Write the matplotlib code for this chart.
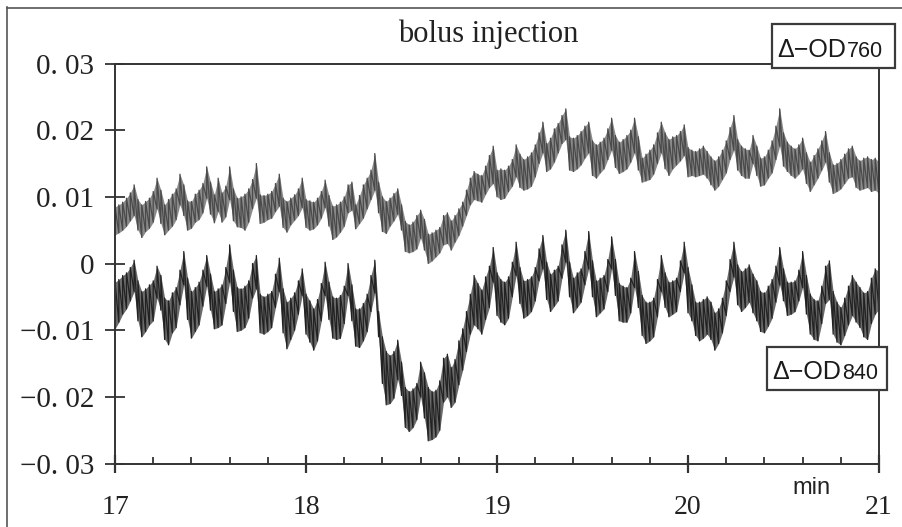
import matplotlib
matplotlib.use("Agg")
import matplotlib.pyplot as plt
import numpy as np
from matplotlib.lines import Line2D
from matplotlib.patches import Rectangle
from matplotlib.ticker import MultipleLocator

# recording grid (min)
t_start = 17.0
t_step = 0.02

# envelopes of the two traces, in units of 0.001
od760_hi = [
    8.5, 8.8, 9.2, 9.8, 10.6, 11.8, 9.6, 8.8, 9.3, 9.8,
    10.8, 12.8, 11.0, 8.8, 9.6, 10.4, 11.2, 13.4, 11.8, 9.4,
    9.3, 10.4, 11.0, 12.0, 14.5, 12.2, 10.3, 12.8, 10.6, 11.6,
    14.5, 11.2, 9.8, 10.0, 10.4, 11.2, 12.6, 15.0, 10.3, 10.2,
    10.4, 10.8, 12.0, 13.4, 9.8, 9.3, 9.8, 10.3, 11.2, 12.8,
    9.6, 9.4, 9.2, 9.8, 10.8, 12.5, 10.2, 8.6, 8.8, 9.2,
    10.0, 11.8, 12.2, 8.8, 10.2, 11.8, 12.8, 14.0, 16.5, 12.2,
    10.0, 9.3, 9.8, 10.5, 11.2, 8.8, 6.3, 5.8, 6.2, 7.2,
    8.0, 6.6, 4.4, 4.6, 5.0, 5.4, 7.2, 7.6, 6.4, 7.2,
    8.2, 9.2, 11.0, 12.8, 13.8, 13.4, 13.2, 14.6, 16.2, 17.6,
    14.0, 14.2, 14.0, 14.6, 15.6, 17.8, 16.4, 15.6, 16.0, 16.6,
    17.8, 19.6, 21.2, 18.0, 18.8, 20.2, 21.0, 22.2, 23.2, 19.0,
    18.8, 19.2, 19.8, 20.6, 21.2, 18.4, 17.8, 18.2, 18.8, 20.2,
    21.8, 19.2, 18.2, 18.6, 19.2, 20.0, 21.8, 19.0, 15.8, 16.4,
    17.0, 17.8, 19.6, 21.2, 19.6, 18.6, 19.0, 19.2, 19.8, 20.8,
    17.4, 17.0, 16.8, 17.2, 17.6, 16.8, 16.0, 15.4, 16.0, 17.0,
    18.4, 20.4, 22.2, 18.6, 17.6, 17.2, 17.0, 19.2, 17.6, 15.8,
    16.0, 17.0, 18.4, 20.6, 23.2, 19.6, 18.2, 17.6, 17.2, 17.8,
    18.8, 16.6, 15.2, 16.2, 17.2, 18.4, 19.8, 16.6, 14.8, 15.0,
    15.6, 16.4, 17.2, 17.6, 16.0, 15.4, 15.8, 16.0, 15.6, 15.8,
    15.2,
]
od760_lo = [
    4.3, 4.6, 5.0, 5.6, 6.4, 7.2, 5.0, 3.9, 4.8, 5.3,
    6.2, 8.2, 6.0, 4.3, 5.0, 5.6, 6.6, 8.8, 7.2, 5.0,
    5.3, 6.2, 6.6, 7.6, 9.8, 7.4, 6.1, 7.8, 6.2, 7.0,
    9.6, 6.4, 5.5, 5.4, 5.0, 6.2, 8.2, 9.8, 6.0, 6.2,
    6.6, 6.8, 7.8, 8.6, 5.4, 4.7, 5.8, 6.5, 7.2, 8.4,
    5.4, 5.0, 5.2, 5.8, 6.8, 8.4, 5.6, 3.6, 4.0, 4.7,
    5.6, 7.6, 8.0, 5.2, 6.0, 6.8, 8.2, 9.6, 11.0, 7.6,
    4.8, 4.5, 5.6, 6.4, 7.4, 5.0, 1.8, 1.6, 1.8, 2.2,
    3.8, 2.0, 0.0, 0.4, 1.0, 1.6, 2.8, 3.0, 2.0, 3.2,
    4.2, 5.6, 7.2, 8.8, 9.6, 9.4, 9.2, 10.4, 11.4, 12.0,
    10.0, 9.6, 9.8, 10.8, 11.6, 13.0, 11.4, 11.0, 11.2, 11.6,
    13.0, 15.0, 16.6, 13.8, 14.2, 15.2, 16.6, 18.0, 18.6, 14.0,
    13.8, 14.2, 14.8, 15.8, 16.6, 13.2, 12.8, 13.6, 14.2, 15.6,
    17.0, 14.4, 13.5, 13.8, 14.2, 15.2, 16.6, 14.0, 12.2, 12.4,
    12.6, 13.4, 15.0, 16.6, 14.2, 13.2, 14.2, 14.8, 15.4, 16.2,
    13.0, 13.2, 13.0, 13.2, 13.4, 12.8, 11.8, 11.0, 11.6, 12.6,
    13.6, 15.6, 17.0, 14.0, 13.2, 12.8, 12.8, 15.0, 13.2, 11.6,
    11.8, 12.8, 13.6, 15.6, 17.6, 14.6, 13.8, 13.2, 12.8, 13.4,
    14.2, 12.0, 10.8, 11.8, 12.8, 14.0, 15.2, 12.2, 10.5, 10.8,
    11.2, 12.0, 12.8, 13.0, 11.4, 11.0, 11.2, 11.4, 10.8, 11.0,
    10.5,
]
od840_hi = [
    -2.8, -2.4, -1.8, -1.4, -0.6, 0.5, -2.6, -4.2, -3.8, -3.2,
    -2.6, -0.4, -1.8, -5.2, -5.6, -4.4, -3.6, -1.0, 1.8, -2.2,
    -4.2, -3.6, -2.8, -1.0, 1.2, -1.6, -4.2, -3.8, -3.2, -0.6,
    2.8, -1.0, -3.6, -3.8, -3.4, -2.6, 0.0, 1.2, -4.6, -5.0,
    -4.6, -4.2, -1.6, 0.8, -3.8, -5.8, -5.2, -4.4, -2.6, -0.8,
    -4.6, -5.6, -6.8, -5.4, -3.0, 0.2, -2.8, -5.0, -5.2, -4.8,
    -3.4, 0.0, -3.2, -6.8, -6.8, -6.0, -4.6, -1.8, 0.5, -7.2,
    -11.0, -13.2, -13.8, -13.2, -11.5, -14.8, -18.6, -19.2, -18.8, -18.0,
    -14.8, -16.4, -18.6, -19.2, -19.0, -17.6, -14.2, -13.6, -15.6, -14.4,
    -11.6, -9.8, -7.2, -4.6, -1.8, -3.0, -4.0, -2.0, -0.4, 2.4,
    -1.4, -2.4, -2.8, -2.0, 0.2, 3.2, -0.6, -2.6, -2.4, -2.0,
    -0.6, 2.2, 4.2, 0.2, -1.6, -1.0, -0.4, 2.8, 5.0, 0.2,
    -2.2, -1.4, -0.8, 1.8, 4.8, 0.4, -2.6, -2.2, -1.8, 0.6,
    4.0, 0.6, -3.0, -3.4, -3.6, -2.2, 1.8, -1.2, -4.8, -5.8,
    -5.8, -5.2, -2.4, 1.2, -1.4, -2.8, -2.6, -2.2, 0.4, 3.2,
    -0.6, -3.2, -5.8, -5.8, -5.4, -5.0, -5.8, -7.4, -6.8, -5.2,
    -2.6, 0.6, 3.2, -0.2, -1.2, -0.8, -0.2, -1.6, -2.6, -4.2,
    -4.4, -3.4, -2.4, -0.4, 2.4, -0.8, -2.8, -2.8, -2.6, -1.0,
    1.8, -1.8, -4.6, -5.4, -5.6, -3.4, -0.4, 0.4, -4.2, -5.8,
    -6.6, -5.2, -3.4, -1.8, -2.8, -3.6, -4.4, -4.2, -2.2, -0.8,
    -1.2,
]
od840_lo = [
    -9.8, -8.8, -7.6, -6.8, -5.6, -4.2, -8.6, -11.0, -10.2, -9.2,
    -8.6, -5.2, -7.0, -11.4, -12.2, -10.4, -9.6, -6.2, -3.2, -8.4,
    -11.2, -10.2, -9.2, -6.4, -3.4, -7.0, -9.8, -9.6, -9.2, -6.0,
    -2.8, -7.2, -10.2, -10.0, -9.6, -8.2, -5.2, -3.8, -10.4, -10.6,
    -10.2, -9.6, -6.6, -4.2, -10.4, -12.8, -11.4, -10.0, -7.6, -4.8,
    -10.6, -11.8, -13.0, -11.6, -8.6, -4.8, -8.4, -11.2, -11.4, -11.2,
    -9.0, -4.8, -8.6, -12.4, -12.6, -11.6, -10.2, -7.2, -4.4, -11.0,
    -18.0, -21.2, -21.0, -20.2, -17.4, -19.8, -24.6, -25.2, -24.6, -23.4,
    -20.0, -23.2, -26.6, -26.4, -26.0, -25.0, -20.8, -20.0, -21.6, -20.8,
    -18.2, -16.0, -13.2, -10.6, -9.2, -9.8, -10.6, -8.4, -6.6, -2.8,
    -7.8, -8.8, -9.2, -8.2, -5.0, -1.8, -6.0, -8.2, -7.8, -7.2,
    -5.6, -2.6, -0.8, -5.4, -7.2, -6.4, -5.6, -2.2, 0.2, -5.0,
    -7.4, -6.6, -5.8, -3.2, -0.8, -5.0, -8.0, -7.4, -6.8, -4.2,
    -0.8, -4.8, -8.6, -8.8, -8.8, -7.4, -3.6, -6.6, -10.8, -12.0,
    -11.6, -11.0, -8.0, -4.2, -6.6, -8.0, -7.6, -7.2, -4.2, -1.4,
    -7.4, -8.6, -10.8, -11.6, -11.2, -10.6, -11.4, -13.0, -12.0, -10.4,
    -7.8, -4.2, -2.0, -6.2, -7.2, -6.6, -5.8, -7.4, -8.6, -10.2,
    -10.4, -9.4, -8.2, -5.8, -3.2, -5.6, -7.8, -7.6, -7.2, -5.6,
    -3.6, -7.6, -10.6, -11.4, -11.6, -9.0, -6.0, -5.4, -10.6, -11.8,
    -12.2, -10.8, -9.2, -7.8, -8.8, -9.6, -11.0, -11.4, -9.0, -7.6,
    -6.8,
]

x_ticks = [17, 18, 19, 20, 21]
x_labels = ["17", "18", "19", "20", "21"]
y_ticks = [-0.03, -0.02, -0.01, 0, 0.01, 0.02, 0.03]
y_labels = ["\u22120. 03", "\u22120. 02", "\u22120. 01", "0", "0. 01", "0. 02", "0. 03"]

W, H = 903, 527


def fx(px):
    return px / W


def fy(py):
    return 1 - py / H


fig = plt.figure(figsize=(9.03, 5.27), dpi=100)
ax = fig.add_axes([fx(115), fy(463.5), fx(879) - fx(115), fy(63.5) - fy(463.5)])

t = t_start + t_step * np.arange(len(od760_hi))


def trace(hi, lo, band, color):
    hi = np.array(hi) * 1e-3
    lo = np.array(lo) * 1e-3
    # grey band between the envelopes, strokes on top
    ax.fill_between(t, lo, hi, color=band, lw=0)
    x = np.repeat(t, 2)
    y = np.column_stack([lo, hi]).ravel()
    ax.plot(x, y, color=color, lw=0.9)


trace(od760_hi, od760_lo, "#8a8a8a", "#4a4a4a")
trace(od840_hi, od840_lo, "#6a6a6a", "#222222")

ax.set_xlim(17, 21)
ax.set_ylim(-0.03, 0.03)
ax.set_xticks(x_ticks)
ax.set_xticklabels(x_labels)
ax.xaxis.set_minor_locator(MultipleLocator(0.2))
ax.set_yticks(y_ticks)
ax.set_yticklabels(y_labels)

serif = "Liberation Serif"
for lab in ax.get_yticklabels():
    lab.set_fontfamily(serif)
    lab.set_fontsize(21)
    lab.set_color("#222222")
for lab in ax.get_xticklabels():
    lab.set_fontfamily(serif)
    lab.set_fontsize(20)
    lab.set_color("#222222")

ax.tick_params(axis="x", which="major", direction="inout", length=13, width=1.6,
               pad=16, color="#333333")
ax.tick_params(axis="x", which="minor", direction="in", length=5, width=1.3,
               color="#333333")
ax.tick_params(axis="y", which="major", direction="inout", length=14, width=1.3,
               pad=8, color="#333333")
for s in ax.spines.values():
    s.set_color("#333333")
    s.set_linewidth(1.4)

# page frame
fig.add_artist(Line2D([fx(7), fx(7)], [fy(7), 0], color="#555555", lw=1.2))
fig.add_artist(Line2D([fx(7), 1], [fy(8), fy(8)], color="#555555", lw=1.2))

fig.text(fx(488), fy(34), "bolus injection", family=serif, fontsize=22,
         ha="center", va="center", color="#222222")
fig.text(fx(812), fy(494), "min", family="Liberation Sans", fontsize=17,
         ha="center", va="baseline", color="#222222")

# trace labels in boxes
for x0, y0, x1, y1, num in [(772, 24, 895, 68, "760"), (767, 347, 887, 390, "840")]:
    fig.add_artist(Rectangle((fx(x0), fy(y1)), fx(x1) - fx(x0), fy(y0) - fy(y1),
                             transform=fig.transFigure, facecolor="white",
                             edgecolor="#3a3a3a", lw=1.6, zorder=5))
    fig.text(fx(x0 + 5), fy(y1 - 11), "\u0394\u2212OD", family="Liberation Sans",
             fontsize=18, ha="left", va="baseline", color="#1a1a1a", zorder=6)
    fig.text(fx(x0 + 75), fy(y1 - 11), num, family="Liberation Sans",
             fontsize=15.5, ha="left", va="baseline", color="#1a1a1a", zorder=6)

fig.savefig("out.png", dpi=100)
